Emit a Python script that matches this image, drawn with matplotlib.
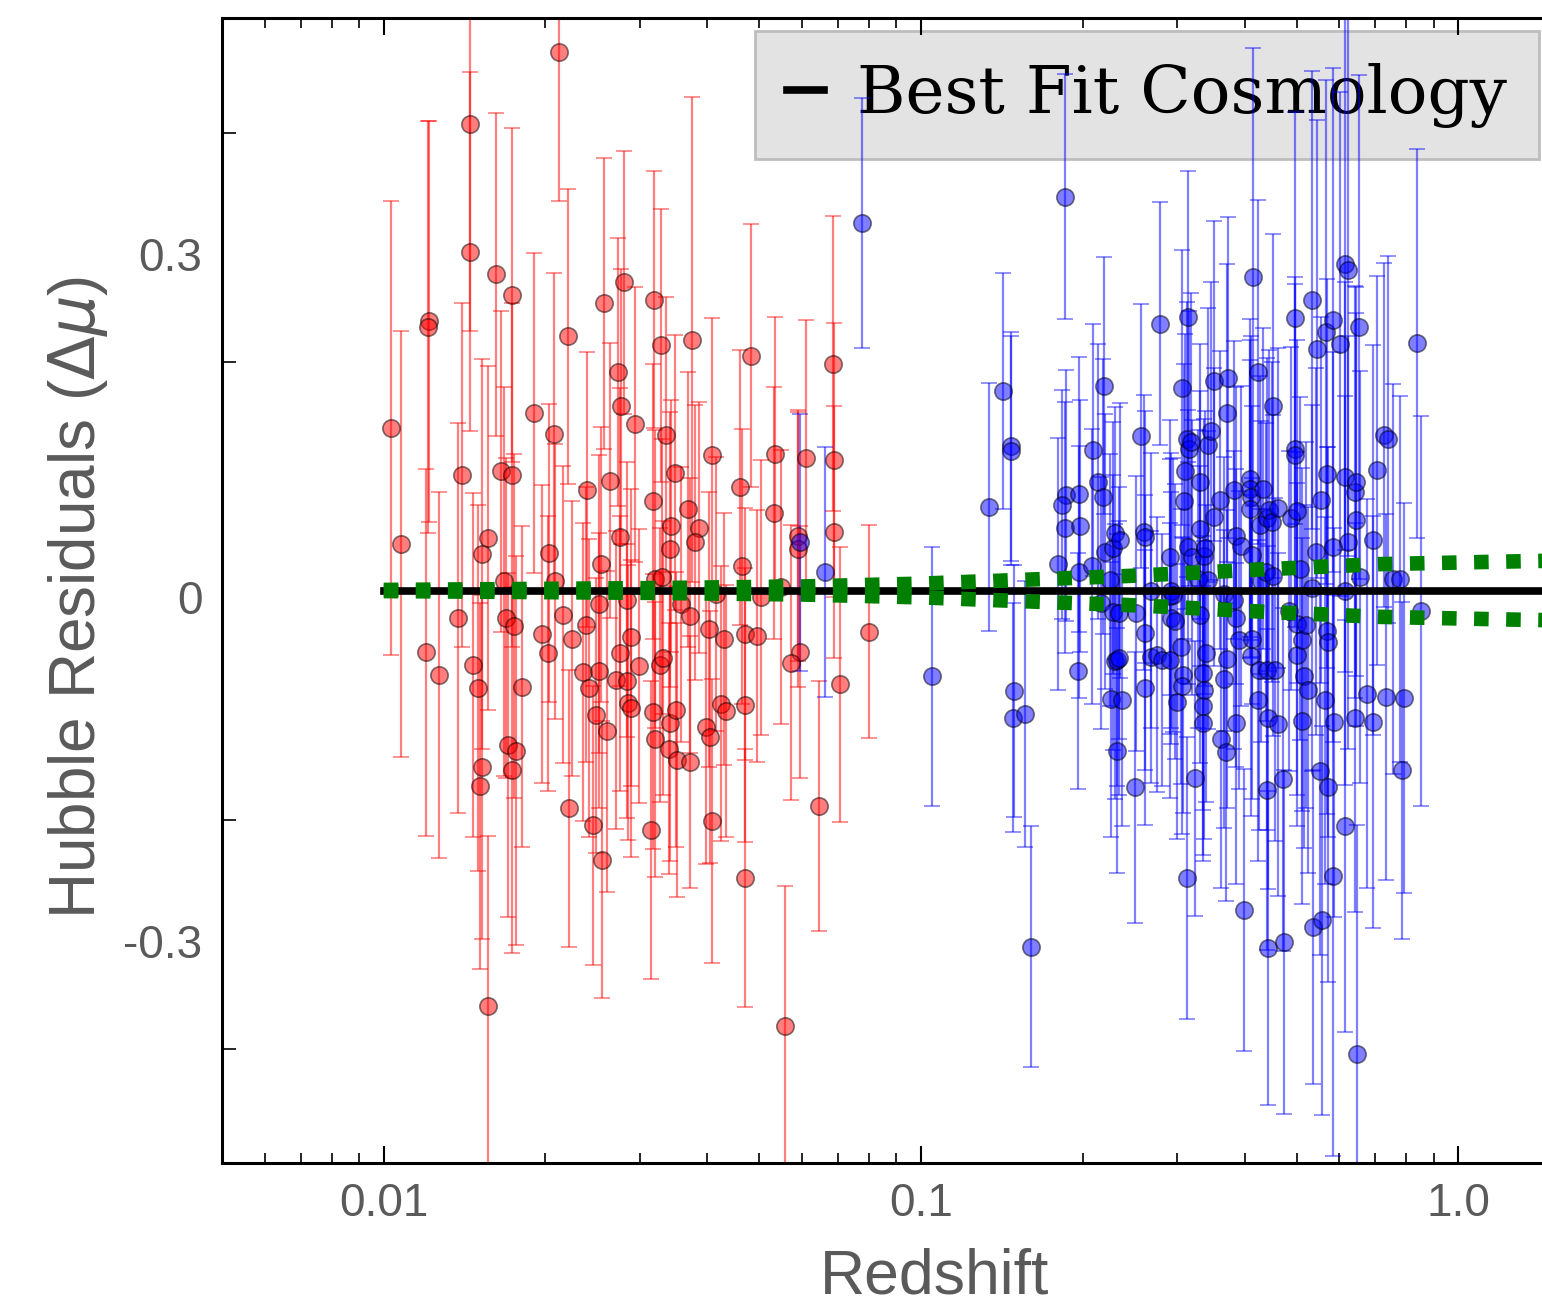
import numpy as np
import matplotlib
matplotlib.use('Agg')
import matplotlib.pyplot as plt
from matplotlib.ticker import FixedLocator, NullFormatter
from matplotlib.transforms import ScaledTranslation

# Low-redshift sample
red_z = [0.0212, 0.01447, 0.01447, 0.01216, 0.0121, 0.0162, 0.0173, 0.0220, 0.0257, 0.0280,
         0.0273, 0.0318, 0.0328, 0.0375, 0.0482, 0.0685,
         0.01032, 0.01077, 0.0120, 0.01265, 0.01396, 0.01374, 0.01468, 0.0150, 0.01526, 0.01565,
         0.01524, 0.0151, 0.01653, 0.01735, 0.01675, 0.0169, 0.0175, 0.0181, 0.0170, 0.0176,
         0.0173, 0.0190, 0.0197, 0.0202, 0.0203, 0.0207, 0.0208, 0.0216, 0.0224, 0.0235,
         0.0239, 0.0238, 0.0241, 0.0252, 0.0252, 0.0248, 0.0254, 0.0260, 0.0264, 0.0271,
         0.0284, 0.0275, 0.0275, 0.0276, 0.0283, 0.0288, 0.0285, 0.0289, 0.0294, 0.0299,
         0.0317, 0.0317, 0.0320, 0.0320, 0.0329, 0.0335, 0.0343, 0.0341, 0.0327, 0.0331,
         0.0349, 0.0357, 0.0341, 0.0340, 0.0350, 0.0351, 0.0368, 0.0386, 0.0380, 0.0371,
         0.0371, 0.0409, 0.0403, 0.0430, 0.0416, 0.0398, 0.0405, 0.0425, 0.0433, 0.0460,
         0.0465, 0.0471, 0.0494, 0.0470, 0.0503, 0.0535, 0.0533, 0.0548, 0.0612, 0.0589,
         0.0590, 0.0595, 0.0573, 0.0688, 0.0690, 0.0706,
         0.01563, 0.0221, 0.0245, 0.0255, 0.0315, 0.0409, 0.0470, 0.0559, 0.0645, 0.0800]
red_dmu = [0.470, 0.407, 0.296, 0.235, 0.230, 0.276, 0.258, 0.222, 0.251, 0.269,
           0.191, 0.254, 0.214, 0.219, 0.205, 0.198,
           0.142, 0.041, -0.054, -0.074, 0.101, -0.024, -0.065, -0.085, 0.032, 0.046,
           -0.154, -0.171, 0.104, 0.101, 0.008, -0.024, -0.031, -0.084, -0.135, -0.140,
           -0.157, 0.155, -0.038, -0.055, 0.033, 0.137, 0.008, -0.021, -0.042, -0.071,
           0.088, -0.030, -0.085, -0.070, -0.012, -0.109, 0.023, -0.123, 0.096, -0.078,
           -0.079, -0.055, 0.047, 0.161, -0.008, -0.041, -0.098, -0.103, 0.145, -0.066,
           0.078, -0.106, -0.130, 0.010, 0.012, 0.136, 0.056, 0.036, -0.065, -0.059,
           0.103, -0.012, -0.116, -0.138, -0.104, -0.148, 0.071, 0.055, 0.042, -0.022,
           -0.150, 0.118, -0.034, -0.042, -0.003, -0.119, -0.128, -0.099, -0.105, 0.090,
           0.021, -0.038, -0.040, -0.100, -0.006, 0.119, 0.068, 0.003, 0.116, 0.048,
           0.036, -0.054, -0.063, 0.114, 0.051, -0.082,
           -0.363, -0.190, -0.205, -0.235, -0.209, -0.201, -0.251, -0.380, -0.188, -0.036]
red_err = [0.13, 0.18, 0.157, 0.175, 0.18, 0.141, 0.146, 0.129, 0.127, 0.115,
           0.117, 0.112, 0.119, 0.212, 0.115, 0.129,
           0.198, 0.186, 0.16, 0.16, 0.15, 0.17, 0.15, 0.16, 0.17, 0.15,
           0.15, 0.16, 0.14, 0.15, 0.17, 0.14, 0.15, 0.14, 0.15, 0.17,
           0.16, 0.14, 0.13, 0.12, 0.13, 0.14, 0.12, 0.13, 0.12, 0.13,
           0.12, 0.12, 0.13, 0.12, 0.13, 0.12, 0.12, 0.14, 0.12, 0.13,
           0.12, 0.12, 0.13, 0.12, 0.12, 0.13, 0.12, 0.13, 0.12, 0.12,
           0.12, 0.12, 0.12, 0.13, 0.12, 0.12, 0.11, 0.12, 0.12, 0.12,
           0.12, 0.12, 0.12, 0.11, 0.12, 0.12, 0.12, 0.11, 0.12, 0.12,
           0.11, 0.12, 0.12, 0.11, 0.12, 0.12, 0.11, 0.12, 0.11, 0.12,
           0.12, 0.11, 0.11, 0.12, 0.12, 0.12, 0.11, 0.12, 0.12, 0.11,
           0.12, 0.11, 0.12, 0.12, 0.11, 0.12,
           0.149, 0.121, 0.122, 0.121, 0.130, 0.124, 0.113, 0.122, 0.109, 0.093]

# High-redshift sample
blue_z = [0.0595, 0.0662, 0.0775, 0.1047, 0.1339, 0.1418, 0.147, 0.147, 0.149, 0.148,
          0.156, 0.160, 0.180, 0.185, 0.186, 0.183, 0.185, 0.196, 0.1966, 0.197,
          0.198, 0.208, 0.2085, 0.213, 0.216, 0.218, 0.219, 0.220, 0.225, 0.226,
          0.228, 0.228, 0.230, 0.230, 0.232, 0.232, 0.234, 0.234, 0.235, 0.237,
          0.250, 0.251, 0.257, 0.260, 0.261, 0.261, 0.261, 0.268, 0.268, 0.275,
          0.279, 0.281, 0.290, 0.290, 0.291, 0.292, 0.292, 0.294, 0.297, 0.299,
          0.305, 0.306, 0.307, 0.306, 0.308, 0.310, 0.312, 0.313, 0.314, 0.314,
          0.315, 0.318, 0.320, 0.324, 0.328, 0.331, 0.331, 0.331, 0.335, 0.335,
          0.335, 0.336, 0.336, 0.338, 0.339, 0.342, 0.342, 0.346, 0.351, 0.351,
          0.360, 0.362, 0.366, 0.366, 0.369, 0.371, 0.371, 0.372, 0.383, 0.383,
          0.385, 0.386, 0.386, 0.391, 0.394, 0.399, 0.409, 0.409, 0.411, 0.409,
          0.412, 0.413, 0.413, 0.415, 0.423, 0.424, 0.426, 0.428, 0.429, 0.433,
          0.439, 0.440, 0.440, 0.441, 0.442, 0.442, 0.444, 0.450, 0.452, 0.452,
          0.455, 0.462, 0.462, 0.472, 0.474, 0.483, 0.488, 0.496, 0.496, 0.497,
          0.500, 0.501, 0.501, 0.507, 0.511, 0.511, 0.517, 0.520, 0.526, 0.533,
          0.534, 0.537, 0.544, 0.546, 0.553, 0.554, 0.558, 0.565, 0.568, 0.570,
          0.570, 0.572, 0.573, 0.584, 0.585, 0.585, 0.587, 0.603, 0.614, 0.614,
          0.614, 0.616, 0.623, 0.624, 0.641, 0.643, 0.646, 0.646, 0.648, 0.654,
          0.657, 0.676, 0.695, 0.695, 0.705, 0.726, 0.734, 0.741, 0.756, 0.780,
          0.784, 0.792, 0.837, 0.853]
blue_dmu = [0.042, 0.016, 0.321, -0.075, 0.073, 0.174, 0.126, 0.122, -0.088, -0.111,
            -0.108, -0.311, 0.023, 0.344, 0.083, 0.075, 0.055, -0.070, 0.016, 0.084,
            0.056, 0.021, 0.123, 0.095, -0.011, 0.082, 0.179, 0.034, 0.009, -0.095,
            0.037, -0.019, 0.050, -0.062, -0.061, -0.140, -0.059, -0.020, 0.044, -0.096,
            -0.172, -0.020, 0.135, 0.051, 0.047, -0.037, -0.085, -0.058, 0.000, -0.056,
            0.233, -0.061, 0.029, -0.005, -0.061, -0.024, 0.000, -0.004, -0.027, -0.097,
            -0.049, 0.177, -0.074, -0.083, 0.078, 0.104, -0.251, 0.132, 0.239, 0.038,
            0.124, 0.130, 0.029, -0.164, 0.010, 0.095, 0.054, -0.021, -0.072, -0.101,
            -0.116, 0.030, -0.087, 0.037, -0.055, 0.127, 0.009, 0.139, 0.183, 0.064,
            0.079, -0.130, -0.003, -0.077, -0.141, 0.155, -0.060, 0.186, 0.088, -0.008,
            -0.024, 0.048, -0.116, -0.043, 0.039, -0.279, 0.097, 0.089, 0.082, 0.071,
            -0.057, 0.031, -0.042, 0.274, 0.191, -0.096, -0.069, 0.057, 0.008, 0.089,
            0.016, 0.063, -0.174, -0.069, -0.111, -0.312, 0.070, 0.060, 0.161, 0.013,
            -0.069, 0.072, -0.117, -0.165, -0.307, -0.018, 0.063, 0.238, 0.124, 0.118,
            0.069, -0.029, -0.056, 0.019, -0.043, -0.114, -0.075, -0.030, -0.087, 0.002,
            0.254, -0.294, 0.034, 0.211, -0.158, 0.079, -0.288, -0.096, 0.226, 0.102,
            -0.035, -0.045, -0.172, -0.249, 0.236, 0.038, -0.115, 0.215, 0.285, 0.000,
            -0.206, 0.099, 0.280, 0.042, -0.111, 0.086, 0.095, 0.062, -0.405, 0.230,
            0.012, -0.090, 0.044, -0.115, 0.105, 0.136, -0.093, 0.132, 0.010, 0.010,
            -0.157, -0.094, 0.216, -0.018]
blue_err = [0.112, 0.109, 0.109, 0.113, 0.108, 0.103, 0.10, 0.10, 0.11, 0.10,
            0.116, 0.105, 0.11, 0.107, 0.11, 0.10, 0.11, 0.103, 0.11, 0.12,
            0.11, 0.12, 0.11, 0.12, 0.11, 0.12, 0.112, 0.12, 0.11, 0.12,
            0.11, 0.12, 0.11, 0.12, 0.11, 0.107, 0.12, 0.11, 0.12, 0.11,
            0.118, 0.12, 0.115, 0.12, 0.11, 0.12, 0.12, 0.11, 0.12, 0.12,
            0.106, 0.11, 0.12, 0.12, 0.12, 0.11, 0.12, 0.12, 0.12, 0.12,
            0.12, 0.12, 0.12, 0.13, 0.12, 0.12, 0.123, 0.12, 0.127, 0.12,
            0.12, 0.13, 0.12, 0.12, 0.13, 0.12, 0.12, 0.13, 0.12, 0.13,
            0.12, 0.12, 0.13, 0.12, 0.13, 0.12, 0.13, 0.13, 0.14, 0.13,
            0.13, 0.13, 0.12, 0.13, 0.13, 0.13, 0.13, 0.14, 0.13, 0.13,
            0.13, 0.13, 0.14, 0.13, 0.14, 0.123, 0.14, 0.13, 0.14, 0.13,
            0.14, 0.13, 0.14, 0.20, 0.15, 0.14, 0.14, 0.13, 0.14, 0.14,
            0.13, 0.14, 0.14, 0.14, 0.15, 0.137, 0.14, 0.14, 0.15, 0.14,
            0.15, 0.14, 0.15, 0.15, 0.15, 0.14, 0.15, 0.18, 0.15, 0.15,
            0.15, 0.15, 0.15, 0.15, 0.15, 0.16, 0.15, 0.16, 0.16, 0.16,
            0.20, 0.137, 0.16, 0.20, 0.16, 0.16, 0.17, 0.16, 0.22, 0.17,
            0.16, 0.17, 0.17, 0.245, 0.22, 0.17, 0.17, 0.22, 0.25, 0.17,
            0.18, 0.17, 0.25, 0.18, 0.17, 0.18, 0.17, 0.18, 0.20, 0.22,
            0.18, 0.17, 0.17, 0.18, 0.17, 0.15, 0.16, 0.16, 0.17, 0.16,
            0.147, 0.17, 0.17, 0.17]

# Best fit cosmology and the spread around it
fit_z = [0.01, 1.5]
fit_dmu = [0.0, 0.0]
band_z = [0.01, 0.03, 0.06, 0.1, 0.18, 0.24, 0.31, 0.41, 0.71, 1.23, 1.5]
band_off = [0.0005, 0.002, 0.0035, 0.006, 0.0105, 0.0126, 0.015, 0.018, 0.023, 0.0253, 0.026]

gris = '#5a5a5a'
plt.rcParams['font.family'] = ['Liberation Sans', 'DejaVu Sans']
plt.rcParams['mathtext.fontset'] = 'dejavusans'

fig = plt.figure(figsize=(15.42, 13.12), dpi=100)
ax = fig.add_axes([222 / 1542, 149 / 1312, 1331 / 1542, 1145 / 1312])

# Puntos con barras de error
ax.errorbar(red_z, red_dmu, yerr=red_err, fmt='o', color='red', mec='k', mew=1.2,
            ms=12.5, alpha=0.5, elinewidth=1.6, capsize=6, capthick=1.6, zorder=2)
ax.errorbar(blue_z, blue_dmu, yerr=blue_err, fmt='o', color='blue', mec='k', mew=1.2,
            ms=12.5, alpha=0.5, elinewidth=1.6, capsize=6, capthick=1.6, zorder=2)

# Cosmologia de mejor ajuste
ax.plot(fit_z, fit_dmu, color='k', lw=5.5, label='Best Fit Cosmology', zorder=3)
band_z = np.array(band_z)
band_off = np.array(band_off)
ax.plot(band_z, band_off, color='green', lw=10.5, dashes=(1.0, 1.2), zorder=4)
ax.plot(band_z, -band_off, color='green', lw=10.5, dashes=(1.0, 1.2), zorder=4)

ax.set_xscale('log')
ax.set_xlim(0.005, 1.5)
ax.set_ylim(-0.5, 0.5)

ax.set_xticks([0.01, 0.1, 1.0])
ax.set_xticklabels(['0.01', '0.1', '1.0'])
ax.xaxis.set_minor_formatter(NullFormatter())
ax.set_yticks([-0.3, 0, 0.3])
ax.set_yticklabels(['-0.3', '0', '0.3'])
ax.yaxis.set_minor_locator(FixedLocator([-0.4, -0.2, 0.2, 0.4]))

ax.tick_params(axis='x', which='both', direction='in', top=True, colors='k',
               labelcolor=gris, labelsize=33, pad=14)
ax.tick_params(axis='x', which='major', length=12, width=1.5)
ax.tick_params(axis='x', which='minor', length=7, width=1.2)
ax.tick_params(axis='y', which='major', length=0, labelcolor=gris, labelsize=33, pad=14)
ax.tick_params(axis='y', which='minor', direction='in', length=10, width=1.2)

# etiquetas del eje y un poco más abajo
bajar = ScaledTranslation(0, -7 / 100, fig.dpi_scale_trans)
for etiqueta in ax.get_yticklabels():
    etiqueta.set_transform(etiqueta.get_transform() + bajar)

for lado in ['left', 'bottom', 'top', 'right']:
    ax.spines[lado].set_linewidth(2.2)

ax.set_xlabel('Redshift', fontsize=45, color=gris, va='center')
ax.xaxis.set_label_coords(0.535, -0.1)
ax.set_ylabel(r'Hubble Residuals ($\Delta\mu$)', fontsize=46, color=gris, va='center')
ax.yaxis.set_label_coords(-0.108, 0.494)

leg = ax.legend(loc='upper left', bbox_to_anchor=(755 / 1542, 1 - 31 / 1312),
                bbox_transform=fig.transFigure, borderaxespad=0, fancybox=False,
                framealpha=1, facecolor='#e3e3e3', edgecolor='#bdbdbd',
                prop={'family': 'DejaVu Serif', 'size': 47.5}, handlelength=0.57,
                handletextpad=0.5, borderpad=0.48)
leg.get_frame().set_linewidth(2)
leg.set_zorder(1)

plt.savefig('out.png', dpi=100)
